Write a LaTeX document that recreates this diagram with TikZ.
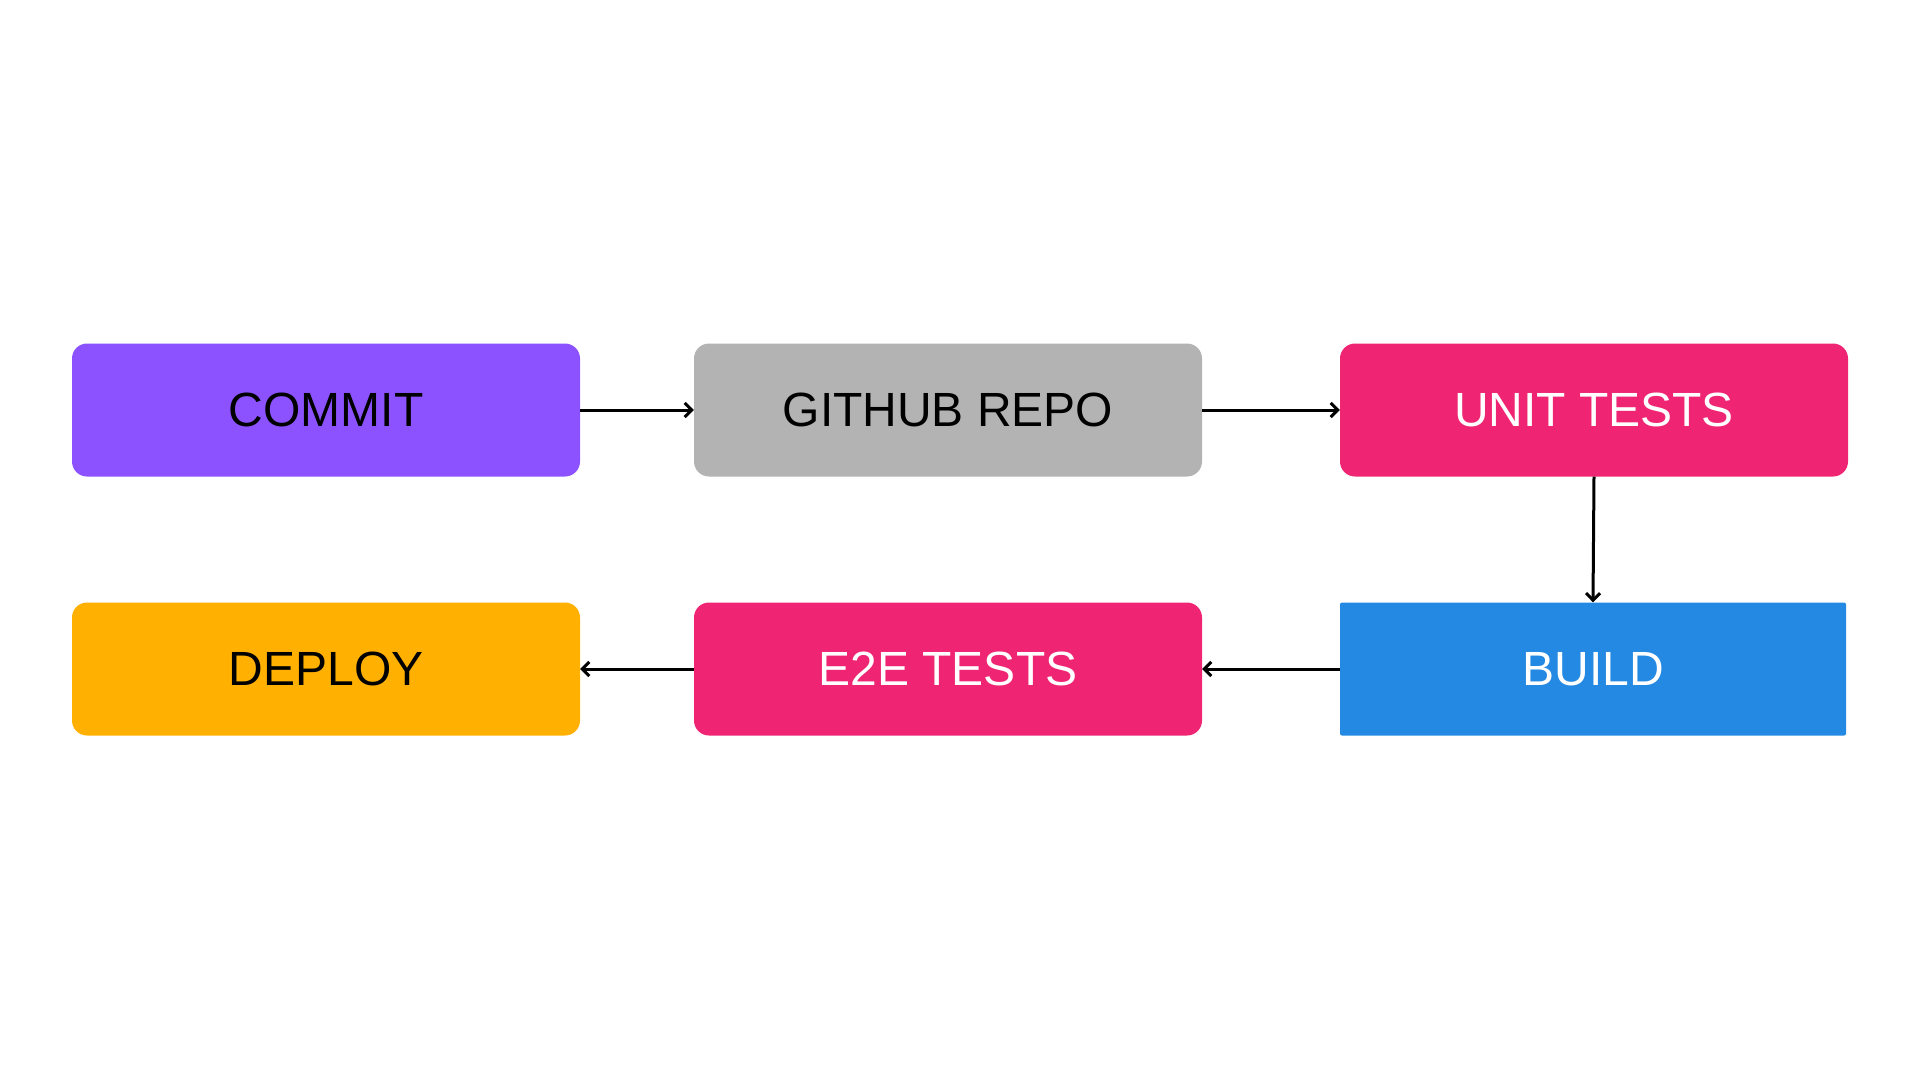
\documentclass[tikz,border=0pt]{standalone}
\usepackage{fontspec}
\setmainfont{Liberation Sans}
\usetikzlibrary{arrows.meta}
\definecolor{cpurple}{HTML}{8C52FF}
\definecolor{cgray}{HTML}{B3B3B3}
\definecolor{cpink}{HTML}{EF2574}
\definecolor{cblue}{HTML}{2489E3}
\definecolor{camber}{HTML}{FFB000}
\tikzset{
  stage/.style={rectangle, rounded corners=15pt, minimum width=508pt, minimum height=133pt, inner sep=0pt, font=\fontsize{48}{58}\selectfont},
  flow/.style={line width=3pt, -{Straight Barb[length=7pt,width=14pt,line width=3pt]}}
}
\begin{document}
\begin{tikzpicture}[x=1pt,y=-1pt]
\useasboundingbox[fill=white] (0,0) rectangle (1920,1080);
\node[stage, fill=cpurple, text=black] (commit) at (326,410) {COMMIT};
\node[stage, fill=cgray, text=black] (repo) at (948,410) {GITHUB REPO};
\node[stage, fill=cpink, text=white] (unit) at (1594,410) {UNIT TESTS};
\node[stage, rounded corners=2pt, minimum width=506pt, fill=cblue, text=white] (build) at (1593,669) {BUILD};
\node[stage, fill=cpink, text=white] (e2e) at (948,669) {E2E TESTS};
\node[stage, fill=camber, text=black] (deploy) at (326,669) {DEPLOY};
\draw[flow] (commit) -- (repo);
\draw[flow] (repo) -- (unit);
\draw[flow] (unit.south) -- (build.north);
\draw[flow] (build) -- (e2e);
\draw[flow] (e2e) -- (deploy);
\end{tikzpicture}
\end{document}
